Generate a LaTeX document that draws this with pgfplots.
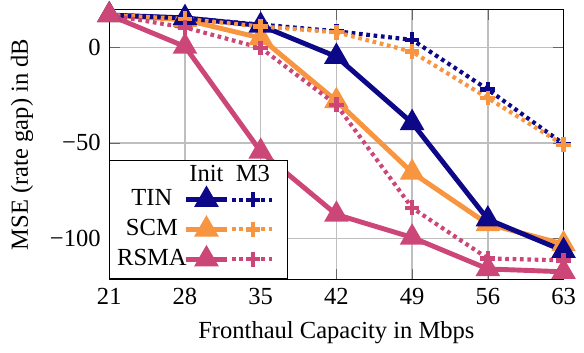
\documentclass[border=0pt]{standalone}
\usepackage{fontspec}
\setmainfont{Liberation Serif}
\usepackage{pgfplots}
\pgfplotsset{compat=1.18}
\definecolor{cTIN}{HTML}{0D0887}
\definecolor{cSCM}{HTML}{F89540}
\definecolor{cRSMA}{HTML}{CC4778}
\begin{document}
\begin{tikzpicture}
\begin{axis}[
  scale only axis,
  width=185pt, height=110pt,
  xmin=21, xmax=63, ymin=-121.5, ymax=20,
  xtick={21,28,35,42,49,56,63},
  ytick={-100,-50,0},
  yticklabels={−100,−50,0},
  /pgf/number format/assume math mode=true,
  grid=major,
  major grid style={line width=0.6pt, draw=black!25},
  xlabel={Fronthaul Capacity in Mbps},
  ylabel={MSE (rate gap) in dB},
  tick style={black!60},
  clip=false,
  extra description/.code={\path (rel axis cs:0,1) ++(0,3.8pt); \path (rel axis cs:1,0) ++(7pt,0); \path (rel axis cs:0,0) ++(-44.5pt,0);},
  init/.style={line width=2pt, mark=triangle*, mark size=3.8pt, mark options={solid}},
  mthree/.style={line width=1.7pt, dash pattern=on 1.5pt off 1.5pt, mark=+, mark size=3pt, mark options={solid, line width=1.8pt}},
  legend columns=3,
  legend cell align=center,
  legend style={at={(0,0)}, anchor=south west, draw=black, fill=white,
    inner xsep=1.5pt, inner ysep=2pt, row sep=0pt,
    nodes={inner xsep=1.5pt},
    /tikz/every odd column/.append style={column sep=0pt},
    /tikz/every even column/.append style={column sep=-3pt}},
]
\addplot[init, color=cSCM, forget plot] coordinates {(21,17) (28,14.5) (35,5) (42,-28) (49,-65.5) (56,-92.5) (63,-103)};
\addplot[init, color=cTIN, forget plot] coordinates {(21,17) (28,15.5) (35,11.5) (42,-4.8) (49,-39.5) (56,-90) (63,-106.5)};
\addplot[mthree, color=cTIN, forget plot] coordinates {(21,17) (28,15.5) (35,12) (42,8.5) (49,4) (56,-22) (63,-50.5)};
\addplot[mthree, color=cSCM, forget plot] coordinates {(21,17) (28,15) (35,11) (42,8) (49,-2.2) (56,-26.5) (63,-51)};
\addplot[init, color=cRSMA, forget plot] coordinates {(21,17) (28,0.5) (35,-54.5) (42,-87.5) (49,-99.5) (56,-116) (63,-117.5)};
\addplot[mthree, color=cRSMA, forget plot] coordinates {(21,17) (28,10.5) (35,-0.2) (42,-30) (49,-84) (56,-110.5) (63,-111.5)};
% legend
\addlegendimage{empty legend}\addlegendentry{}
\addlegendimage{legend image code/.code={\node[inner sep=0pt, anchor=base] at (0.3cm,-0.1cm) {Init};}}\addlegendentry{}
\addlegendimage{legend image code/.code={\node[inner sep=0pt, anchor=base] at (0.3cm,-0.1cm) {M3};}}\addlegendentry{}
\addlegendimage{empty legend}\addlegendentry{TIN}
\addlegendimage{init, color=cTIN}\addlegendentry{}
\addlegendimage{mthree, color=cTIN}\addlegendentry{}
\addlegendimage{empty legend}\addlegendentry{SCM}
\addlegendimage{init, color=cSCM}\addlegendentry{}
\addlegendimage{mthree, color=cSCM}\addlegendentry{}
\addlegendimage{empty legend}\addlegendentry{RSMA}
\addlegendimage{init, color=cRSMA}\addlegendentry{}
\addlegendimage{mthree, color=cRSMA}\addlegendentry{}
\end{axis}
\end{tikzpicture}
\end{document}
